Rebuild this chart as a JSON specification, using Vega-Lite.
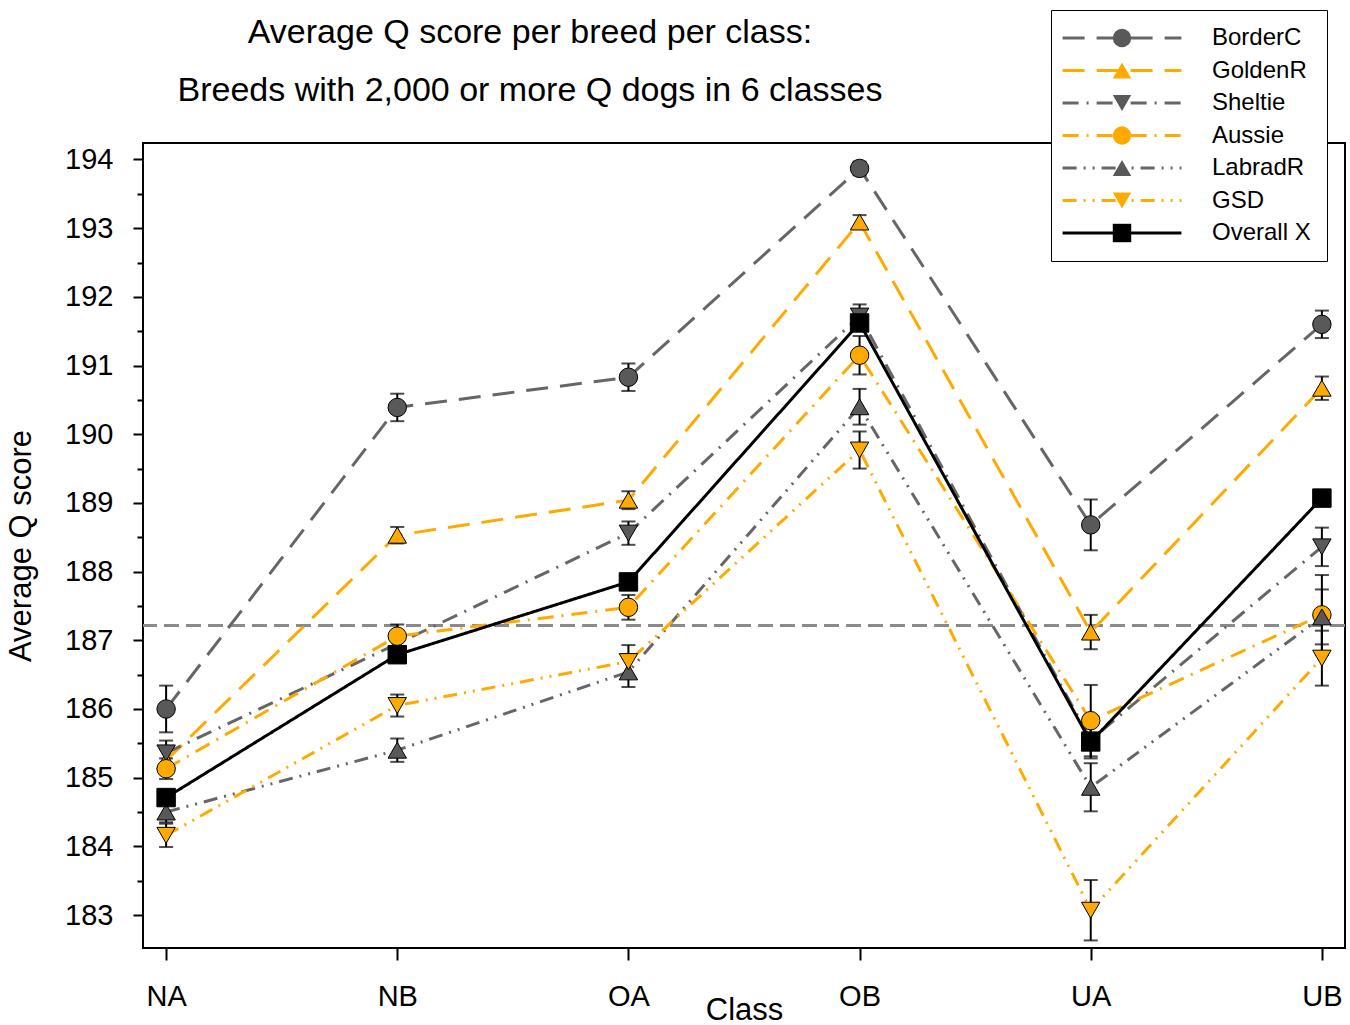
{
  "$schema": "https://vega.github.io/schema/vega-lite/v6.json",
  "width": 1202,
  "height": 805,
  "autosize": {"type": "none"},
  "padding": {"left": 143, "top": 143, "right": 5, "bottom": 77},
  "background": "white",
  "title": {
    "text": ["Average Q score per breed per class:", "Breeds with 2,000 or more Q dogs in 6 classes"],
    "font": "Liberation Sans",
    "fontSize": 34,
    "fontWeight": "normal",
    "color": "black",
    "anchor": "middle",
    "frame": "group",
    "dx": -214,
    "offset": -98,
    "lineHeight": 58
  },
  "data": {
    "values": [
      {"Class": "NA", "Breed": "BorderC", "Score": 186.0, "Err": 0.34},
      {"Class": "NB", "Breed": "BorderC", "Score": 190.39, "Err": 0.2},
      {"Class": "OA", "Breed": "BorderC", "Score": 190.83, "Err": 0.2},
      {"Class": "OB", "Breed": "BorderC", "Score": 193.87, "Err": 0.1},
      {"Class": "UA", "Breed": "BorderC", "Score": 188.68, "Err": 0.37},
      {"Class": "UB", "Breed": "BorderC", "Score": 191.6, "Err": 0.2},
      {"Class": "NA", "Breed": "GoldenR", "Score": 185.25, "Err": 0.17},
      {"Class": "NB", "Breed": "GoldenR", "Score": 188.53, "Err": 0.12},
      {"Class": "OA", "Breed": "GoldenR", "Score": 189.04, "Err": 0.13},
      {"Class": "OB", "Breed": "GoldenR", "Score": 193.09, "Err": 0.1},
      {"Class": "UA", "Breed": "GoldenR", "Score": 187.12, "Err": 0.25},
      {"Class": "UB", "Breed": "GoldenR", "Score": 190.67, "Err": 0.17},
      {"Class": "NA", "Breed": "Sheltie", "Score": 185.36, "Err": 0.18},
      {"Class": "NB", "Breed": "Sheltie", "Score": 186.95, "Err": 0.15},
      {"Class": "OA", "Breed": "Sheltie", "Score": 188.56, "Err": 0.17},
      {"Class": "OB", "Breed": "Sheltie", "Score": 191.72, "Err": 0.17},
      {"Class": "UA", "Breed": "Sheltie", "Score": 185.55, "Err": 0.27},
      {"Class": "UB", "Breed": "Sheltie", "Score": 188.36, "Err": 0.28},
      {"Class": "NA", "Breed": "Aussie", "Score": 185.13, "Err": 0.15},
      {"Class": "NB", "Breed": "Aussie", "Score": 187.06, "Err": 0.17},
      {"Class": "OA", "Breed": "Aussie", "Score": 187.48, "Err": 0.18},
      {"Class": "OB", "Breed": "Aussie", "Score": 191.15, "Err": 0.28},
      {"Class": "UA", "Breed": "Aussie", "Score": 185.83, "Err": 0.52},
      {"Class": "UB", "Breed": "Aussie", "Score": 187.37, "Err": 0.58},
      {"Class": "NA", "Breed": "LabradR", "Score": 184.5, "Err": 0.15},
      {"Class": "NB", "Breed": "LabradR", "Score": 185.4, "Err": 0.17},
      {"Class": "OA", "Breed": "LabradR", "Score": 186.54, "Err": 0.22},
      {"Class": "OB", "Breed": "LabradR", "Score": 190.4, "Err": 0.26},
      {"Class": "UA", "Breed": "LabradR", "Score": 184.86, "Err": 0.35},
      {"Class": "UB", "Breed": "LabradR", "Score": 187.34, "Err": 0.4},
      {"Class": "NA", "Breed": "GSD", "Score": 184.16, "Err": 0.17},
      {"Class": "NB", "Breed": "GSD", "Score": 186.05, "Err": 0.16},
      {"Class": "OA", "Breed": "GSD", "Score": 186.69, "Err": 0.24},
      {"Class": "OB", "Breed": "GSD", "Score": 189.77, "Err": 0.27},
      {"Class": "UA", "Breed": "GSD", "Score": 183.07, "Err": 0.44},
      {"Class": "UB", "Breed": "GSD", "Score": 186.74, "Err": 0.4},
      {"Class": "NA", "Breed": "Overall X", "Score": 184.71},
      {"Class": "NB", "Breed": "Overall X", "Score": 186.79},
      {"Class": "OA", "Breed": "Overall X", "Score": 187.85},
      {"Class": "OB", "Breed": "Overall X", "Score": 191.62},
      {"Class": "UA", "Breed": "Overall X", "Score": 185.52},
      {"Class": "UB", "Breed": "Overall X", "Score": 189.07}
    ]
  },
  "resolve": {"axis": {"y": "independent"}},
  "layer": [
    {
      "mark": {"type": "rule", "stroke": "#8a8a8a", "strokeWidth": 2.5, "strokeDash": [15, 7]},
      "encoding": {
        "y": {
          "datum": 187.22,
          "axis": {"orient": "left", "values": [183.5, 184.5, 185.5, 186.5, 187.5, 188.5, 189.5, 190.5, 191.5, 192.5, 193.5], "labels": false, "tickSize": 6, "title": null, "domain": false}
        }
      }
    },
    {
      "mark": {"type": "line", "strokeWidth": 3},
      "encoding": {
        "x": {"field": "Class", "type": "ordinal", "title": "Class", "scale": {"type": "point", "padding": 0.1}},
        "y": {
          "field": "Score", "type": "quantitative", "title": "Average Q score",
          "scale": {"domain": [182.52, 194.24], "nice": false, "zero": false},
          "axis": {
            "orient": "left",
            "values": [183, 184, 185, 186, 187, 188, 189, 190, 191, 192, 193, 194],
            "format": "d",
            "tickSize": 10
          }
        },
        "stroke": {
          "field": "Breed", "type": "nominal",
          "scale": {"domain": ["BorderC", "GoldenR", "Sheltie", "Aussie", "LabradR", "GSD", "Overall X"], "range": ["#666666", "#FFAA00", "#666666", "#FFAA00", "#666666", "#FFAA00", "#000000"]},
          "legend": {"orient": "none", "legendX": 908, "legendY": -133, "direction": "vertical", "title": null, "symbolType": "M-6.6,0H6.6", "symbolSize": 324, "symbolStrokeWidth": 3, "symbolOffset": 43, "labelOffset": 78, "labelFontSize": 24, "labelFont": "Liberation Sans", "labelColor": "black", "rowPadding": 8.5, "padding": 16, "strokeColor": "black", "fillColor": "white", "labelLimit": 300}
        },
        "strokeDash": {
          "field": "Breed", "type": "nominal",
          "scale": {"domain": ["BorderC", "GoldenR", "Sheltie", "Aussie", "LabradR", "GSD", "Overall X"], "range": [[22, 12], [22, 12], [16, 8, 2, 8], [16, 8, 2, 8], [14, 7, 2, 7, 2, 7], [14, 7, 2, 7, 2, 7], [1, 0]]},
          "legend": {"orient": "none", "legendX": 908, "legendY": -133, "direction": "vertical", "title": null, "symbolType": "M-6.6,0H6.6", "symbolSize": 324, "symbolStrokeWidth": 3, "symbolOffset": 43, "labelOffset": 78, "labelFontSize": 24, "labelFont": "Liberation Sans", "labelColor": "black", "rowPadding": 8.5, "padding": 16, "strokeColor": "black", "fillColor": "white", "labelLimit": 300}
        }
      }
    },
    {
      "transform": [{"filter": "isValid(datum.Err)"}],
      "mark": {"type": "errorbar", "color": "black", "ticks": {"size": 14, "thickness": 2, "color": "black"}, "rule": {"strokeWidth": 2, "color": "black"}},
      "encoding": {
        "x": {"field": "Class", "type": "ordinal", "title": "Class"},
        "y": {"field": "Score", "type": "quantitative", "title": "Average Q score", "axis": null},
        "yError": {"field": "Err"}
      }
    },
    {
      "mark": {"type": "point", "filled": true, "stroke": "black", "strokeWidth": 1, "size": 340, "opacity": 1},
      "encoding": {
        "x": {"field": "Class", "type": "ordinal", "title": "Class"},
        "y": {"field": "Score", "type": "quantitative", "title": "Average Q score", "axis": null},
        "fill": {
          "field": "Breed", "type": "nominal",
          "scale": {"domain": ["Overall X", "BorderC", "GoldenR", "Sheltie", "Aussie", "LabradR", "GSD"], "range": ["#000000", "#595959", "#FFAA00", "#595959", "#FFAA00", "#595959", "#FFAA00"]},
          "legend": {"orient": "none", "legendX": 908, "legendY": -133, "direction": "vertical", "title": null, "values": ["BorderC", "GoldenR", "Sheltie", "Aussie", "LabradR", "GSD", "Overall X"], "symbolSize": 340, "symbolStrokeWidth": 1, "symbolStrokeColor": "black", "symbolOffset": 43, "labelOffset": 78, "labelFontSize": 24, "labelFont": "Liberation Sans", "labelOpacity": 0, "rowPadding": 8.5, "padding": 16, "labelLimit": 300}
        },
        "shape": {
          "field": "Breed", "type": "nominal",
          "scale": {"domain": ["Overall X", "BorderC", "GoldenR", "Sheltie", "Aussie", "LabradR", "GSD"], "range": ["square", "circle", "triangle-up", "triangle-down", "circle", "triangle-up", "triangle-down"]},
          "legend": {"orient": "none", "legendX": 908, "legendY": -133, "direction": "vertical", "title": null, "values": ["BorderC", "GoldenR", "Sheltie", "Aussie", "LabradR", "GSD", "Overall X"], "symbolSize": 340, "symbolStrokeWidth": 1, "symbolStrokeColor": "black", "symbolOffset": 43, "labelOffset": 78, "labelFontSize": 24, "labelFont": "Liberation Sans", "labelOpacity": 0, "rowPadding": 8.5, "padding": 16, "labelLimit": 300}
        }
      }
    }
  ],
  "config": {
    "font": "Liberation Sans",
    "view": {"stroke": "black", "strokeWidth": 2},
    "axis": {
      "domain": false, "grid": false,
      "labelFont": "Liberation Sans", "labelFontSize": 29, "labelColor": "black",
      "titleFont": "Liberation Sans", "titleFontSize": 31, "titleFontWeight": "normal", "titleColor": "black",
      "tickColor": "black", "tickWidth": 2
    },
    "axisX": {"labelAngle": 0, "tickSize": 12, "labelPadding": 22, "titlePadding": -16},
    "axisY": {"labelPadding": 20, "titlePadding": 27}
  }
}
